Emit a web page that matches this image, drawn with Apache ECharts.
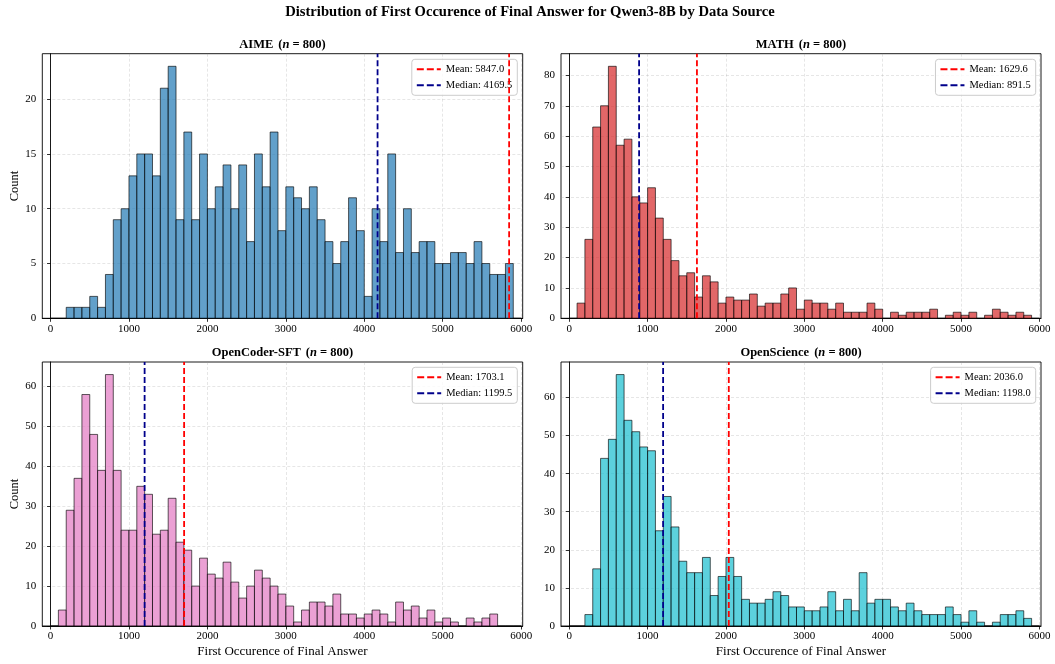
<!DOCTYPE html>
<html><head><meta charset="utf-8">
<script src="https://cdn.jsdelivr.net/npm/echarts@6/dist/echarts.min.js"></script>
<style>html,body{margin:0;padding:0;background:#fff}#c{width:1055px;height:664px}</style>
</head><body><div id="c"></div>
<script>
// ---------- DATA ----------
const binLefts = [0,100,200,300,400,500,600,700,800,900,1000,1100,1200,1300,1400,1500,1600,1700,1800,1900,
  2000,2100,2200,2300,2400,2500,2600,2700,2800,2900,3000,3100,3200,3300,3400,3500,3600,3700,3800,3900,
  4000,4100,4200,4300,4400,4500,4600,4700,4800,4900,5000,5100,5200,5300,5400,5500,5600,5700,5800,5900];
const binWidth = 100;
const aimeCounts = [0,0,1,1,1,2,1,4,9,10,13,15,15,13,21,23,9,17,9,15,
  10,12,14,10,14,7,15,12,17,8,12,11,10,12,9,7,5,7,11,8,
  2,10,7,15,6,10,6,7,7,5,5,6,6,5,7,5,4,4,5,0];
const mathCounts = [0,5,26,63,70,83,57,59,40,38,43,33,26,19,14,15,7,14,12,5,
  7,6,6,8,4,5,5,8,10,3,6,5,5,3,5,2,2,2,5,3,
  0,2,1,2,2,2,3,0,1,2,1,2,0,1,3,2,1,2,1,0];
const openCoderCounts = [0,4,29,37,58,48,39,63,39,24,24,35,33,23,24,32,21,19,10,17,
  13,12,16,11,7,10,14,12,10,8,5,1,4,6,6,5,8,3,3,2,
  3,4,3,1,6,4,5,2,4,1,2,1,0,2,1,2,3,0,0,0];
const openScienceCounts = [0,0,3,15,44,49,66,54,51,47,46,25,34,26,17,14,14,18,8,13,
  18,13,7,6,6,7,9,8,5,5,4,4,5,9,4,7,4,14,6,7,
  7,5,4,6,4,3,3,3,5,3,1,4,1,0,1,3,3,4,2,0];
const panelNames = ['AIME','MATH','OpenCoder-SFT','OpenScience'];
const panelN = [800,800,800,800];
const meanValues = [5847.0,1629.6,1703.1,2036.0];
const medianValues = [4169.5,891.5,1199.5,1198.0];
const xTicks = [0,1000,2000,3000,4000,5000,6000];
const yTicksAime = [0,5,10,15,20];
const yTicksMath = [0,10,20,30,40,50,60,70,80];
const yTicksOpenCoder = [0,10,20,30,40,50,60];
const yTicksOpenScience = [0,10,20,30,40,50,60];
const mainTitle = 'Distribution of First Occurence of Final Answer for Qwen3-8B by Data Source';
const xLabel = 'First Occurence of Final Answer';
const yLabel = 'Count';

// ---------- LAYOUT / STYLE ----------
const F = "'Liberation Serif','Times New Roman',serif";
const countsList = [aimeCounts, mathCounts, openCoderCounts, openScienceCounts];
const yTicksList = [yTicksAime, yTicksMath, yTicksOpenCoder, yTicksOpenScience];
const fills = ['rgba(31,119,180,0.7)','rgba(214,39,40,0.7)','rgba(227,119,194,0.7)','rgba(23,190,207,0.7)'];
const gridsPos = [
  {left:42.3, top:53.7, width:480.4, height:264.6},
  {left:561, top:53.7, width:480, height:264.6},
  {left:42.3, top:362, width:480.4, height:264},
  {left:561, top:362, width:480, height:264}
];
const legendPos = [
  {right:537.7, top:59.3},{right:19.3, top:59.3},{right:537.7, top:367.3},{right:19.3, top:367.3}
];
const titleTops = [36, 36, 344, 344];
const dashIcon = 'path://M0,0H7V2H0Z M10,0H17V2H10Z M20,0H24V2H20Z';

const option = {
  animation:false,
  backgroundColor:'#fff',
  title:[], grid:[], xAxis:[], yAxis:[], series:[], legend:[]
};
option.title.push({text:mainTitle, left:530, top:5, textAlign:'center', padding:0,
  textStyle:{fontFamily:F, fontWeight:'bold', fontSize:14.6, color:'#000'}});

for (let i=0;i<4;i++){
  const g = gridsPos[i];
  const counts = countsList[i];
  const yMax = Math.max(...counts)*1.05;
  const yt = yTicksList[i];
  option.grid.push(Object.assign({show:true, borderColor:'#000', borderWidth:0.9, backgroundColor:'transparent'}, g));
  option.title.push({
    text:'{b|'+panelNames[i]+'} {r|(}{i|n}{r| = '+panelN[i]+')}',
    left:g.left+g.width/2, top:titleTops[i], textAlign:'center', padding:0,
    textStyle:{rich:{
      b:{fontFamily:F, fontWeight:'bold', fontSize:12.5, color:'#000'},
      r:{fontFamily:F, fontSize:12.5, color:'#000'},
      i:{fontFamily:F, fontStyle:'italic', fontSize:12.5, color:'#000'}
    }}
  });
  const bottomRow = i>=2, leftCol = (i%2)===0;
  option.xAxis.push({
    type:'value', gridIndex:i, min:-105, max:6020,
    name: bottomRow ? xLabel : '', nameLocation:'middle', nameGap:19,
    nameTextStyle:{fontFamily:F, fontSize:13, color:'#000'},
    axisLine:{show:true, onZero:false, lineStyle:{color:'#000', width:0.9}},
    axisTick:{show:true, length:3.5, customValues:xTicks, lineStyle:{color:'#000', width:0.8}},
    axisLabel:{customValues:xTicks, formatter:v=>String(v), fontFamily:F, fontSize:11, color:'#000', margin:5},
    splitLine:{show:true, lineStyle:{color:'rgba(150,150,150,0.3)', type:[3,2], width:0.8}}
  });
  option.yAxis.push({
    type:'value', gridIndex:i, min:0, max:yMax,
    name: leftCol ? yLabel : '', nameLocation:'middle', nameGap:19,
    nameTextStyle:{fontFamily:F, fontSize:12.5, color:'#000'},
    axisLine:{show:true, lineStyle:{color:'#000', width:0.9}},
    axisTick:{show:true, length:3.5, customValues:yt, lineStyle:{color:'#000', width:0.8}},
    axisLabel:{customValues:yt, formatter:v=>String(v), fontFamily:F, fontSize:11, color:'#000', margin:6},
    splitLine:{show:true, lineStyle:{color:'rgba(150,150,150,0.3)', type:[3,2], width:0.8}}
  });
  const fill = fills[i];
  option.series.push({
    type:'custom', xAxisIndex:i, yAxisIndex:i, z:2,
    data: binLefts.map((b,k)=>[b, b+binWidth, counts[k]]),
    encode:{x:[0,1], y:2},
    renderItem:function(params, api){
      const p0 = api.coord([api.value(0), api.value(2)]);
      const p1 = api.coord([api.value(1), 0]);
      return {type:'rect', shape:{x:p0[0], y:p0[1], width:p1[0]-p0[0], height:p1[1]-p0[1]},
        style:{fill:fill, stroke:'rgba(0,0,0,0.7)', lineWidth:0.9}};
    }
  });
  const meanName = 'Mean: '+meanValues[i].toFixed(1);
  const medName = 'Median: '+medianValues[i].toFixed(1);
  option.series.push({
    type:'line', name:meanName, xAxisIndex:i, yAxisIndex:i, z:5, symbol:'none',
    data:[[meanValues[i],0],[meanValues[i],yMax]],
    lineStyle:{color:'#ff0000', width:1.8, type:[6,3]}, itemStyle:{color:'#ff0000'}
  });
  option.series.push({
    type:'line', name:medName, xAxisIndex:i, yAxisIndex:i, z:5, symbol:'none',
    data:[[medianValues[i],0],[medianValues[i],yMax]],
    lineStyle:{color:'#00008b', width:1.8, type:[6,3]}, itemStyle:{color:'#00008b'}
  });
  option.legend.push(Object.assign({
    data:[{name:meanName, icon:dashIcon}, {name:medName, icon:dashIcon}],
    orient:'vertical', itemWidth:24, itemHeight:2, itemGap:4,
    textStyle:{fontFamily:F, fontSize:10.5, color:'#000', lineHeight:12},
    backgroundColor:'rgba(255,255,255,0.8)', borderColor:'#cccccc', borderWidth:1, borderRadius:3,
    padding:[4,5,4,5], selectedMode:false
  }, legendPos[i]));
}
const chart = echarts.init(document.getElementById('c'), null, {renderer:'canvas'});
chart.setOption(option);
</script></body></html>
